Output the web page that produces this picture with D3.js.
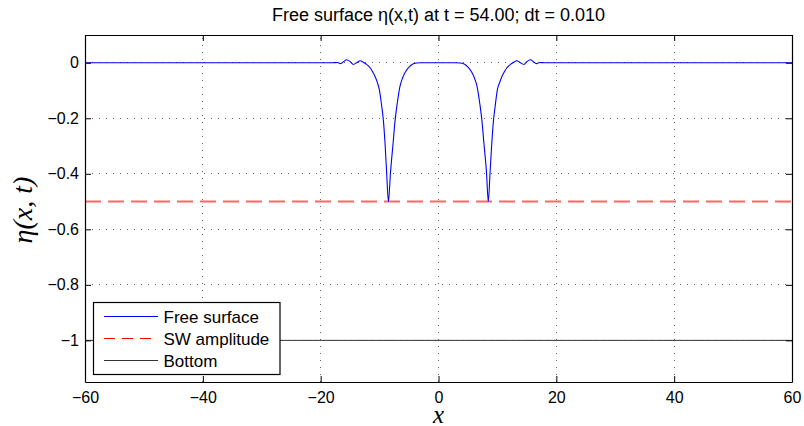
<!DOCTYPE html>
<html>
<head>
<meta charset="utf-8">
<script src="https://cdn.jsdelivr.net/npm/d3@7"></script>
<style>
  body { margin: 0; background: #fff; }
  svg { display: block; }
</style>
</head>
<body>
<div id="chart"></div>
<script>
// free surface samples
var freeX = [-60, -18, -17.2, -16.6, -16.1, -15.6, -15.0, -14.45, -13.9, -13.3, -12.7, -12.2, -11.6, -11.2, -10.8, -10.4, -10.05,
  -9.64, -9.37, -9.08, -8.8, -8.5, -8.15, -7.7, -7.35, -7.0, -6.55, -6.1, -5.7, -5.1, -4.5, -3.7, -3,
  3, 3.7, 4.5, 5.1, 5.7, 6.1, 6.55, 7.0, 7.35, 7.7, 8.15, 8.45, 8.75, 9.05, 9.35, 9.62, 10.0, 10.4, 10.8, 11.2, 11.6,
  12.2, 12.7, 13.3, 13.9, 14.5, 15.0, 15.6, 16.1, 16.6, 17.2, 18, 60];
var freeEta = [0, 0, 0.001, -0.003, 0.004, 0.011, 0.004, -0.006, 0.0, 0.007, 0.001, -0.006, -0.018, -0.032, -0.048, -0.07, -0.096,
  -0.156, -0.204, -0.288, -0.396, -0.5, -0.396, -0.288, -0.204, -0.146, -0.086, -0.055, -0.036, -0.018, -0.006, -0.001, 0,
  0, -0.001, -0.006, -0.018, -0.036, -0.055, -0.086, -0.146, -0.204, -0.288, -0.396, -0.5, -0.396, -0.288, -0.204, -0.156, -0.096, -0.07, -0.048, -0.032, -0.018,
  -0.006, 0.001, 0.007, 0, -0.006, 0.004, 0.011, 0.004, -0.003, 0.001, 0, 0];
var swX = [-60, 60];
var swEta = [-0.5, -0.5];
var bottomX = [-60, 60];
var bottomEta = [-1, -1];

var xTicks = [-60, -40, -20, 0, 20, 40, 60];
var xTickLabels = ["\u221260", "\u221240", "\u221220", "0", "20", "40", "60"];
var yTicks = [0, -0.2, -0.4, -0.6, -0.8, -1];
var yTickLabels = ["0", "\u22120.2", "\u22120.4", "\u22120.6", "\u22120.8", "\u22121"];
var legendNames = ["Free surface", "SW amplitude", "Bottom"];

//Width and height
var w = 804;
var h = 426;
var pLeft = 85, pRight = 792, pTop = 35, pBottom = 382;

var svg = d3.select("#chart")
  .append("svg")
  .attr("width", w)
  .attr("height", h)
  .style("font-family", "'Liberation Sans', Arial, sans-serif");

var x = d3.scaleLinear().domain([-60, 60]).range([pLeft, pRight]);
var y = d3.scaleLinear().domain([-1.15, 0.1]).range([pBottom, pTop]);

// grid
var grid = svg.append("g").attr("stroke", "#666").attr("stroke-width", 1)
  .attr("stroke-dasharray", "1,6").attr("shape-rendering", "crispEdges");
grid.selectAll("line.vx")
  .data(xTicks.slice(1, -1))
  .enter()
  .append("line")
  .attr("x1", function(d) { return x(d); })
  .attr("x2", function(d) { return x(d); })
  .attr("y1", pBottom)
  .attr("y2", pTop);
grid.selectAll("line.hy")
  .data(yTicks)
  .enter()
  .append("line")
  .attr("x1", pLeft)
  .attr("x2", pRight)
  .attr("y1", function(d) { return y(d); })
  .attr("y2", function(d) { return y(d); });

var line = d3.line()
  .x(function(d) { return x(d[0]); })
  .y(function(d) { return y(d[1]); });

svg.append("path")
  .datum(bottomX.map(function(v, i) { return [v, bottomEta[i]]; }))
  .attr("d", line)
  .attr("fill", "none")
  .attr("stroke", "#333")
  .attr("stroke-width", 1);

svg.append("path")
  .datum(swX.map(function(v, i) { return [v, swEta[i]]; }))
  .attr("d", line)
  .attr("fill", "none")
  .attr("stroke", "#ff0000")
  .attr("stroke-opacity", 0.6)
  .attr("stroke-width", 2)
  .attr("stroke-dasharray", "16,7");

svg.append("path")
  .datum(freeX.map(function(v, i) { return [v, freeEta[i]]; }))
  .attr("d", line.curve(d3.curveMonotoneX))
  .attr("fill", "none")
  .attr("stroke", "#0000ff")
  .attr("stroke-width", 1.1);

// axes, ticks inside
var xAxis = d3.axisBottom(x).tickValues(xTicks).tickSize(-6).tickSizeOuter(0).tickPadding(10)
  .tickFormat(function(d, i) { return xTickLabels[i]; });
var gx = svg.append("g").attr("transform", "translate(0," + pBottom + ")").call(xAxis);
svg.append("g").attr("transform", "translate(0," + pTop + ")")
  .call(d3.axisTop(x).tickValues(xTicks).tickSize(-6).tickSizeOuter(0).tickFormat(""));
var yAxis = d3.axisLeft(y).tickValues(yTicks).tickSize(-6).tickSizeOuter(0).tickPadding(6)
  .tickFormat(function(d, i) { return yTickLabels[i]; });
var gy = svg.append("g").attr("transform", "translate(" + pLeft + ",0)").call(yAxis);
svg.append("g").attr("transform", "translate(" + pRight + ",0)")
  .call(d3.axisRight(y).tickValues(yTicks).tickSize(-6).tickSizeOuter(0).tickFormat(""));

svg.selectAll(".domain").attr("stroke", "#000").attr("stroke-width", 1.2);
svg.selectAll(".tick line").attr("stroke", "#000");
svg.selectAll(".tick text").attr("font-size", "16px").attr("fill", "#000")
  .attr("font-family", "'Liberation Sans', Arial, sans-serif");

// title and labels
svg.append("text")
  .attr("x", (pLeft + pRight) / 2)
  .attr("y", 21)
  .attr("text-anchor", "middle")
  .attr("font-size", "18px")
  .text("Free surface \u03b7(x,t) at t = 54.00; dt = 0.010");

svg.append("text")
  .attr("x", (pLeft + pRight) / 2)
  .attr("y", 423)
  .attr("text-anchor", "middle")
  .attr("font-family", "'Liberation Serif', serif")
  .attr("font-style", "italic")
  .attr("font-size", "25px")
  .text("x");

svg.append("text")
  .attr("transform", "translate(32,210) rotate(-90)")
  .attr("text-anchor", "middle")
  .attr("font-family", "'Liberation Serif', serif")
  .attr("font-style", "italic")
  .attr("font-size", "28px")
  .text("\u03b7(x, t)");

// legend
var lg = svg.append("g").attr("transform", "translate(93.5,302.5)");
lg.append("rect")
  .attr("width", 186.5)
  .attr("height", 72)
  .attr("fill", "#fff")
  .attr("stroke", "#000")
  .attr("stroke-width", 1.2);
var lgColors = ["#0000ff", "#ff0000", "#333"];
var lgDash = [null, "11,7", null];
lg.selectAll("line.item")
  .data(legendNames)
  .enter()
  .append("line")
  .attr("x1", 10.5)
  .attr("x2", 64.5)
  .attr("y1", function(d, i) { return 14 + i * 22; })
  .attr("y2", function(d, i) { return 14 + i * 22; })
  .attr("stroke", function(d, i) { return lgColors[i]; })
  .attr("stroke-dasharray", function(d, i) { return lgDash[i]; })
  .attr("stroke-width", 1);
lg.selectAll("text.item")
  .data(legendNames)
  .enter()
  .append("text")
  .attr("x", 70)
  .attr("y", function(d, i) { return 14 + i * 22; })
  .attr("dy", "0.36em")
  .attr("font-size", "17px")
  .text(function(d) { return d; });
</script>
</body>
</html>
